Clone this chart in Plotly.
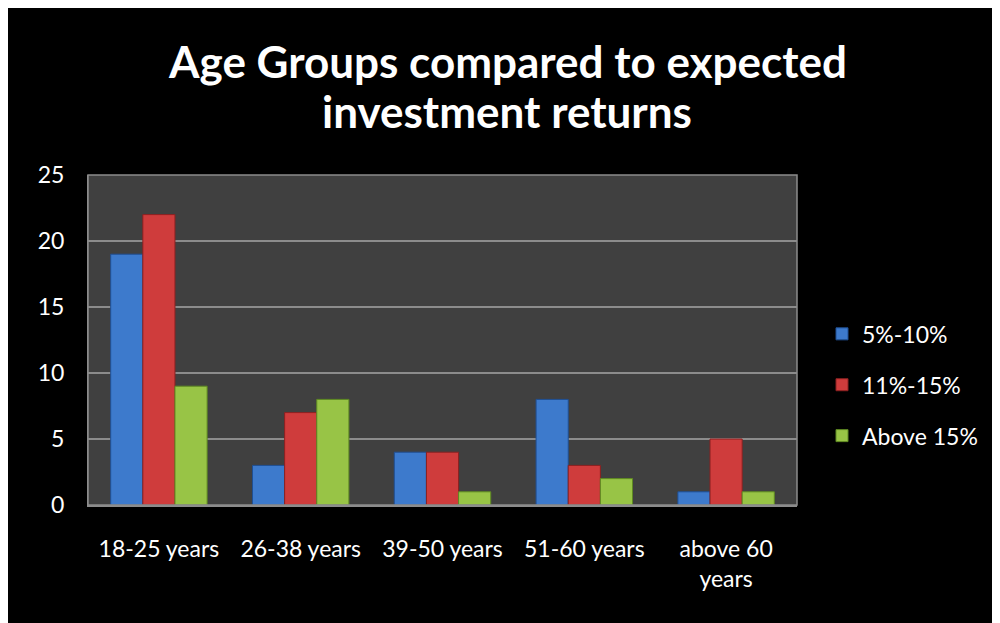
import plotly.graph_objects as go

categories = ["18-25 years", "26-38 years", "39-50 years", "51-60 years", "above 60<br>years"]
series_names = ["5%-10%", "11%-15%", "Above 15%"]
v_5_10 = [19, 3, 4, 8, 1]
v_11_15 = [22, 7, 4, 3, 5]
v_above15 = [9, 8, 1, 2, 1]
colors = ["#3d7acc", "#cf3c3c", "#98c446"]
outlines = ["#1f4f94", "#8c2020", "#5f8a22"]
title_lines = ["Age Groups compared to expected", "investment returns"]

# page body has an 8px margin, so the figure is sized to fit the window
W, H = 992, 615
L, R, T, B = 80, 203, 167, 118
pw, ph = W - L - R, H - T - B

def px_x(x):
    return (x - L) / pw

def px_y(y):
    return (H - B - y) / ph

fig = go.Figure()
for name, vals, c, oc in zip(series_names, [v_5_10, v_11_15, v_above15], colors, outlines):
    fig.add_trace(go.Bar(x=categories, y=vals, name=name, legendgroup=name,
                         marker=dict(color=c, line=dict(color=oc, width=1))))

title_anns = [
    dict(text=t, xref="paper", yref="paper", x=px_x(499), y=px_y(yc),
         xanchor="center", yanchor="middle", showarrow=False,
         font=dict(family="Lato", size=44, color="white", weight="bold"))
    for t, yc in zip(title_lines, [53, 103])
]

fig.update_layout(
    width=W, height=H,
    margin=dict(l=L, r=R, t=T, b=B),
    paper_bgcolor="black",
    plot_bgcolor="#404040",
    bargap=0.32, bargroupgap=0,
    font=dict(family="Lato", color="white", size=23),
    showlegend=True,
    legend=dict(x=px_x(814), y=0.364, yanchor="middle", xanchor="left",
                font=dict(size=23, color="white"), itemwidth=30,
                tracegroupgap=18, bgcolor="rgba(0,0,0,0)"),
    xaxis=dict(showgrid=False, showline=True, linecolor="#8c8c8c", linewidth=2,
               ticks="outside", ticklen=22, tickcolor="rgba(0,0,0,0)",
               tickfont=dict(size=23, color="white"), mirror=False),
    yaxis=dict(range=[0, 25], dtick=5, showgrid=True, gridcolor="#8c8c8c", gridwidth=1.5,
               showline=True, linecolor="#8c8c8c", linewidth=1, zeroline=False,
               ticks="outside", ticklen=18, tickcolor="rgba(0,0,0,0)",
               tickfont=dict(size=23, color="white")),
    shapes=[
        dict(type="rect", xref="paper", yref="paper", layer="above",
             x0=0, x1=1, y0=0, y1=1, line=dict(color="#8c8c8c", width=1.5)),
    ],
    annotations=title_anns,
)

fig.write_html("out.html")
